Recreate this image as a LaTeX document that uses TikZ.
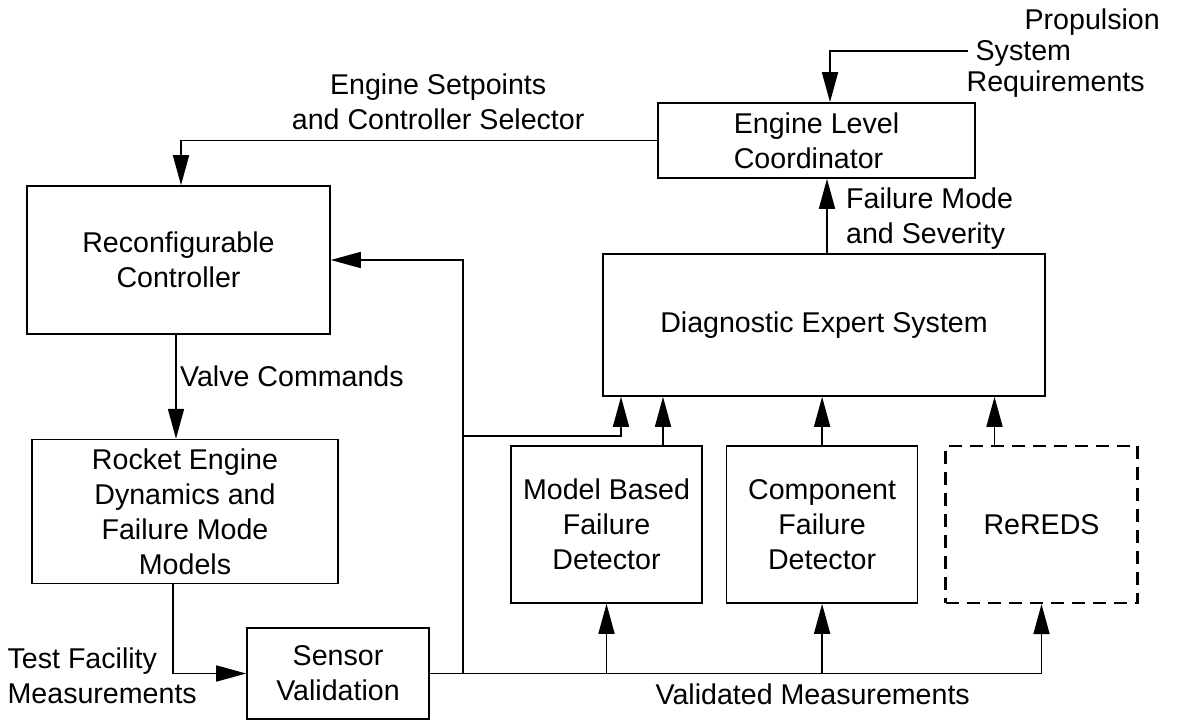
\documentclass[tikz,border=0pt]{standalone}
\usepackage{fontspec}
\setmainfont{Liberation Sans}
\usetikzlibrary{positioning}
\usetikzlibrary{arrows.meta}

\begin{document}
\begin{tikzpicture}[
            x = 1pt, y = -1pt, % one unit per pixel, y pointing down
            > = {Triangle[length=30pt, width=16pt]}, % arrow head style
            line width = 1.6pt, % line style
            font = \fontsize{28.6pt}{35pt}\selectfont
        ]

        \tikzstyle{block}=[
            draw,
            align = center,
            inner sep = 0pt
        ]
        \tikzstyle{dashblock}=[
            block,
            line width = 2.2pt,
            dash pattern = on 13pt off 8pt
        ]

        \useasboundingbox (0,0) rectangle (1177,722);

        \node[block, align=left] (ELC) [minimum width=317pt, minimum height=75pt] at (816.5,140.5) {Engine Level\\Coordinator};
        \node[block] (RC) [minimum width=303pt, minimum height=148pt] at (178.5,260) {Reconfigurable\\Controller};
        \node[block] (RE) [minimum width=306pt, minimum height=144pt, below=104pt of RC, xshift=6.5pt] {Rocket Engine\\Dynamics and\\Failure Mode\\Models};
        \node[block] (SV) [minimum width=182pt, minimum height=91pt] at (338,673.5) {Sensor\\Validation};
        \node[block] (DES) [minimum width=442pt, minimum height=142pt] at (824,325) {Diagnostic Expert System};
        \node[block] (MBFD) [minimum width=191pt, minimum height=157pt] at (606.5,524.5) {Model Based\\Failure\\Detector};
        \node[block] (CFD) [minimum width=191pt, minimum height=157pt, right=23pt of MBFD] {Component\\Failure\\Detector};
        \node[dashblock] (RR) [minimum width=192pt, minimum height=157pt, right=26pt of CFD] {ReREDS};

        \node[anchor=west, align=left, font=\fontsize{28.6pt}{31pt}\selectfont] (PSR) at (962.5,53) {\hspace*{58pt}Propulsion\\\hspace*{9pt}System\\Requirements};
        \node[anchor=west, align=left] (TFM) at (3.5,675.5) {Test Facility\\Measurements};

        \coordinate (req) at (968,51);
        \coordinate (tap) at (463,673.5);
        \coordinate (fork) at (463,436);

        \draw[->] (req) -| ([xshift=13.5pt]ELC.north);
        \draw[->] (ELC.west) -| node[pos=0.23, yshift=38.5pt, align=center] {Engine Setpoints\\and Controller Selector} ([xshift=2.5pt]RC.north);
        \draw[->] ([xshift=-2.5pt]RC.south) -- node[pos=0.4, right] {Valve Commands} ([xshift=-2.5pt]RC.south |- RE.north);
        \draw[->] ([xshift=-12pt]RE.south) |- (SV.west);

        \draw[->] (SV.east) -| node[pos=0.313, yshift=-21pt] {Validated Measurements} (RR.south);
        \draw[->] (MBFD.south |- SV.east) -- (MBFD.south);
        \draw[->] (CFD.south |- SV.east) -- (CFD.south);
        \draw[->] (tap) |- (RC.east);
        \draw[->] (fork) -| ([xshift=-203pt]DES.south);

        \draw[->] ([xshift=56.5pt]MBFD.north) -- ([xshift=56.5pt]MBFD.north |- DES.south);
        \draw[->] (CFD.north) -- (CFD.north |- DES.south);
        \draw[->] ([xshift=-47pt]RR.north) -- ([xshift=-47pt]RR.north |- DES.south);
        \draw[->] ([xshift=3pt]DES.north) -- node[pos=0.46, right=15pt, align=left] {Failure Mode\\and Severity} ([xshift=3pt]DES.north |- ELC.south);

\end{tikzpicture}
\end{document}
